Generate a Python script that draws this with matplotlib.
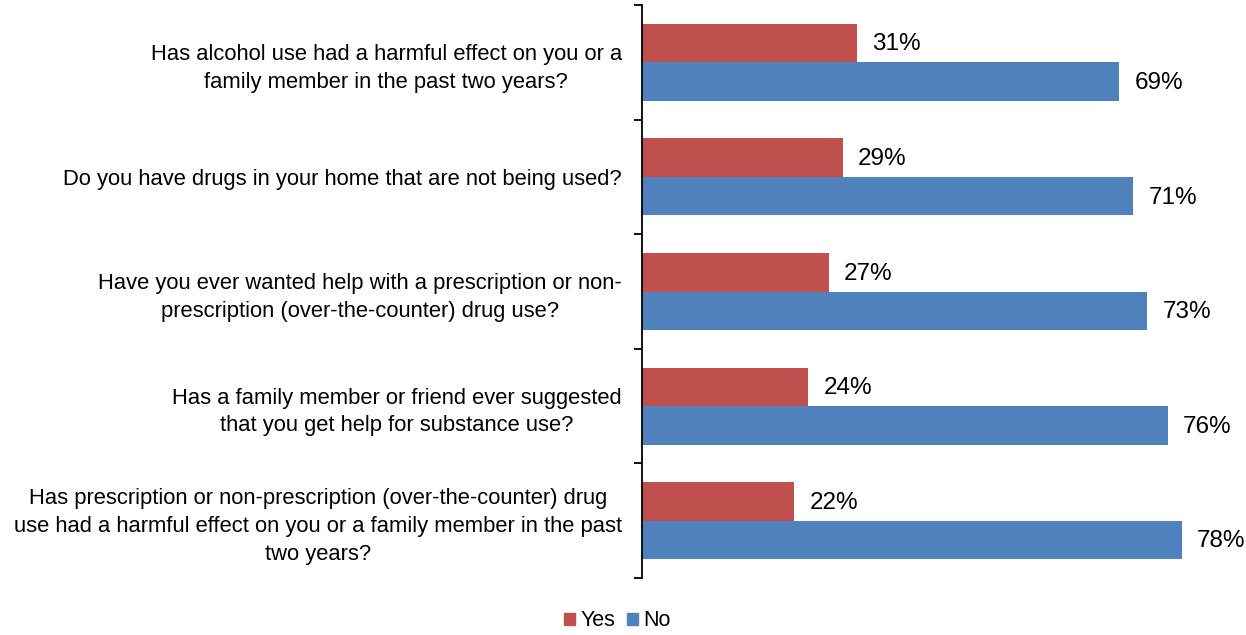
import matplotlib
matplotlib.use("Agg")
import matplotlib.pyplot as plt
from matplotlib.patches import Patch
import numpy as np

plt.rcParams['font.family'] = ['Liberation Sans', 'DejaVu Sans']

categories = [
    "Has alcohol use had a harmful effect on you or a\nfamily member in the past two years?",
    "Do you have drugs in your home that are not being used?",
    "Have you ever wanted help with a prescription or non-\nprescription (over-the-counter) drug use?",
    "Has a family member or friend ever suggested\nthat you get help for substance use?",
    "Has prescription or non-prescription (over-the-counter) drug\nuse had a harmful effect on you or a family member in the past\ntwo years?",
]
yes_vals = [31, 29, 27, 24, 22]
no_vals = [69, 71, 73, 76, 78]
series_names = ["Yes", "No"]
colors = ["#C0504D", "#4F81BD"]

W, H = 1246, 635
fig = plt.figure(figsize=(W / 100, H / 100), dpi=100)
ax = fig.add_axes([642 / W, 1 - 578 / H, 602 / W, 573 / H])

y = np.arange(len(categories))
bh = 0.336
ax.barh(y - bh / 2, yes_vals, height=bh, color=colors[0], label=series_names[0])
ax.barh(y + bh / 2, no_vals, height=bh, color=colors[1], label=series_names[1])

for i in range(len(categories)):
    ax.annotate(f"{yes_vals[i]}%", (yes_vals[i], y[i] - bh / 2), xytext=(11, -1),
                textcoords="offset points", va="center", ha="left", fontsize=17.5)
    ax.annotate(f"{no_vals[i]}%", (no_vals[i], y[i] + bh / 2), xytext=(11, -1),
                textcoords="offset points", va="center", ha="left", fontsize=17.5)

ax.set_xlim(0, 87)
ax.set_ylim(len(categories) - 0.5, -0.5)
ax.set_xticks([])
for s in ["top", "right", "bottom"]:
    ax.spines[s].set_visible(False)
ax.spines["left"].set_linewidth(1.3)

ax.set_yticks(y)
ax.set_yticklabels(categories, fontsize=15.8, multialignment="center", linespacing=1.42)
ax.tick_params(axis="y", which="major", length=0, pad=14.5)
ax.set_yticks(np.arange(len(categories) + 1) - 0.5, minor=True)
ax.tick_params(axis="y", which="minor", length=6, width=1.3, direction="out")

handles = [Patch(color=c, label=n) for c, n in zip(colors, series_names)]
fig.legend(handles=handles, loc="center", bbox_to_anchor=(617.5 / W, 1 - 621 / H),
           ncol=2, frameon=False, fontsize=15.5, handlelength=0.5, handleheight=0.5,
           handletextpad=0.25, columnspacing=0.55, borderpad=0)

fig.savefig("out.png", dpi=100)
